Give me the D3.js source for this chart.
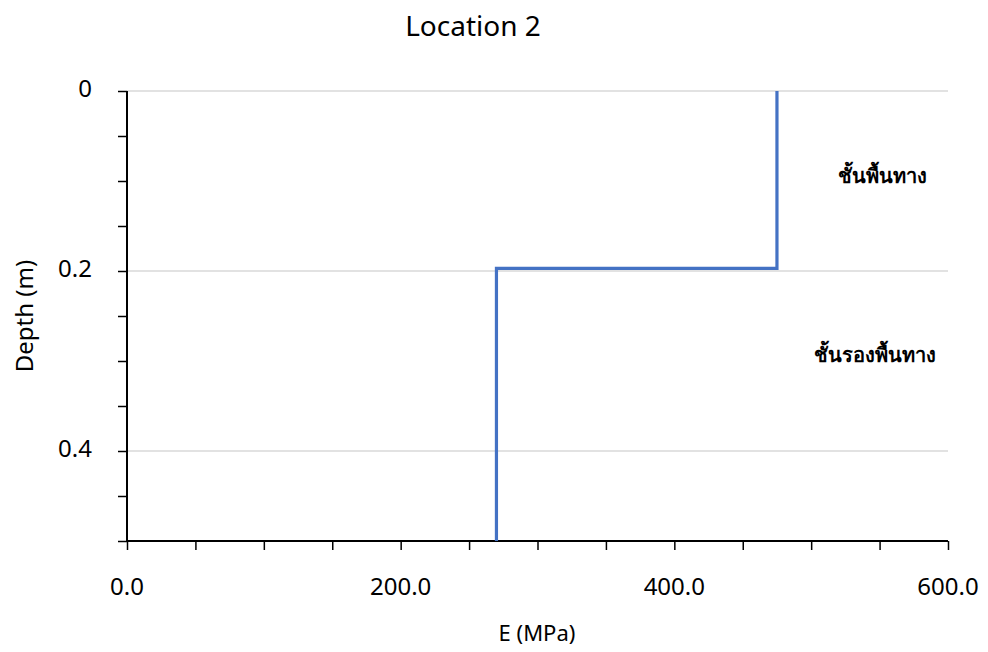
<!DOCTYPE html>
<html><head><meta charset="utf-8">
<script src="https://cdn.jsdelivr.net/npm/d3@7"></script>
<style>
body{margin:0;background:#fff;}
text{font-family:"Noto Sans","Open Sans","DejaVu Sans",sans-serif;fill:#000;}
</style></head>
<body><svg id="c" width="988" height="652"></svg>
<script>
const title = "Location 2";
const xTitle = "E (MPa)";
const yTitle = "Depth (m)";
// step profile: E (MPa) vs depth (m)
const eValues = [475, 475, 270, 270];
const depthValues = [0, 0.197, 0.197, 0.5];
const xTickLabels = [0, 200, 400, 600];
const yTickLabels = [0, 0.2, 0.4];
const layerNames = ["ชั้นพื้นทาง", "ชั้นรองพื้นทาง"];
const layerLabelE = [552, 547];
const layerLabelDepth = [0.102, 0.301];

const svg = d3.select("#c");
const m = {l:127, r:948, t:91, b:541};
const x = d3.scaleLinear().domain([0,600]).range([m.l,m.r]);
const y = d3.scaleLinear().domain([0,0.5]).range([m.t,m.b]);

// gridlines
svg.append("g").selectAll("line").data(yTickLabels).join("line")
  .attr("x1",m.l).attr("x2",m.r).attr("y1",d=>y(d)).attr("y2",d=>y(d))
  .attr("stroke","#d9d9d9").attr("stroke-width",1.3);

// x axis
const xAxis = d3.axisBottom(x).tickValues(d3.range(0,601,50)).tickSize(9).tickFormat("");
const gx = svg.append("g").attr("transform",`translate(0,${m.b})`).call(xAxis);
gx.select(".domain").attr("stroke","#000").attr("stroke-width",2).attr("d",`M${m.l},0H${m.r}`);
gx.selectAll(".tick line").attr("stroke","#000").attr("stroke-width",1.5);
svg.append("g").selectAll("text").data(xTickLabels).join("text")
  .attr("x",d=>x(d)).attr("y",595).attr("text-anchor","middle")
  .attr("font-size",24).text(d=>d.toFixed(1));

// y axis
const yAxis = d3.axisLeft(y).tickValues(d3.range(0,0.501,0.05)).tickSize(9).tickFormat("");
const gy = svg.append("g").attr("transform",`translate(${m.l},0)`).call(yAxis);
gy.select(".domain").attr("stroke","#000").attr("stroke-width",2).attr("d",`M0,${m.t}V${m.b}`);
gy.selectAll(".tick line").attr("stroke","#000").attr("stroke-width",1.5);
svg.append("g").selectAll("text").data(yTickLabels).join("text")
  .attr("x",92).attr("y",d=>y(d)-2).attr("dy","0.35em").attr("text-anchor","end")
  .attr("font-size",24).text(d=>d===0?"0":String(d));

// line
const line = d3.line().x(d=>x(d[0])).y(d=>y(d[1]));
svg.append("path").datum(eValues.map((e,i)=>[e,depthValues[i]]))
  .attr("d",line).attr("fill","none").attr("stroke","#4472c4").attr("stroke-width",3.2)
  .attr("stroke-linejoin","miter");

// layer labels
svg.append("g").selectAll("text").data(layerNames).join("text")
  .attr("x",(d,i)=>x(layerLabelE[i])).attr("y",(d,i)=>y(layerLabelDepth[i]))
  .attr("text-anchor","middle").attr("font-size",20).attr("font-weight","bold").text(d=>d);

// titles
svg.append("text").attr("x",473).attr("y",36).attr("text-anchor","middle").attr("font-size",28).text(title);
svg.append("text").attr("x",537).attr("y",641).attr("text-anchor","middle").attr("font-size",22).text(xTitle);
svg.append("text").attr("transform","translate(33,316) rotate(-90)").attr("text-anchor","middle").attr("font-size",24).text(yTitle);
</script></body></html>
